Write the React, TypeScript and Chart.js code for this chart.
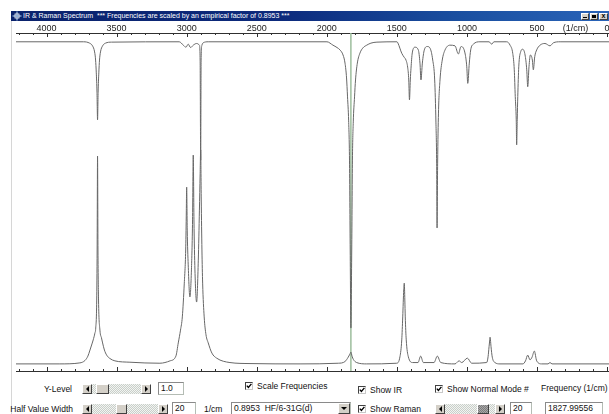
import React, { useEffect, useRef } from 'react';
import { Chart, registerables } from 'chart.js';

Chart.register(...registerables);

const FONT = '"Liberation Sans", Arial, Helvetica, sans-serif';

// ---- axis (wavenumber, 1/cm, drawn reversed) ----
const axisTickValues = [4000, 3500, 3000, 2500, 2000, 1500, 1000, 500, 0];
const axisUnitLabel = '(1/cm)';
const axisUnitValue = 225;
const minorTickStep = 100;
const majorTickStep = 500;
const axisMin = -14;
const axisMax = 4218;
const levelMin = 0;
const levelMax = 100;

// ---- window / controls ----
const windowTitle = 'IR & Raman Spectrum';
const windowNote = '*** Frequencies are scaled by an empirical factor of 0.8953 ***';
const selectedFrequency = 1827.99556;
const scaleFactorText = '0.8953';
const methodText = 'HF/6-31G(d)';
const yLevelText = '1.0';
const halfValueWidthText = '20';
const normalModeText = '20';

// ---- IR spectrum: [wavenumber, level] (dips downward from baseline) ----
const irSpectrum: [number, number][] = [
  [4218, 97.4], [3736, 97.4], [3693, 97.0], [3672, 96.2], [3657, 94.4], [3650, 92.0],
  [3645, 88.2], [3640, 82.5], [3636, 74.3], [3632, 82.5], [3627, 88.2], [3622, 92.0],
  [3615, 94.4], [3600, 96.2], [3579, 97.0], [3536, 97.3], [3053, 97.4], [3024, 96.4],
  [3005, 95.8], [2989, 96.7], [2972, 95.7], [2953, 96.4], [2929, 96.9], [2909, 96.4],
  [2904, 92.0], [2900, 62.4], [2897, 92.0], [2891, 96.4], [2882, 97.1], [2846, 97.4],
  [1999, 97.4], [1956, 96.4], [1927, 95.7], [1906, 95.0], [1884, 93.5], [1870, 91.1],
  [1859, 86.7], [1852, 81.1], [1844, 74.0], [1838, 62.4], [1833, 35.8], [1828, 12.7],
  [1822, 35.8], [1817, 62.4], [1811, 73.7], [1802, 81.1], [1795, 86.1], [1782, 91.1],
  [1763, 94.1], [1742, 95.6], [1715, 96.4], [1685, 97.0], [1642, 97.3], [1499, 97.4],
  [1492, 97.0], [1465, 94.0], [1449, 92.9], [1435, 92.0], [1423, 89.9], [1415, 86.1],
  [1410, 80.2], [1404, 86.1], [1399, 89.6], [1390, 94.1], [1370, 95.8], [1347, 95.0],
  [1335, 91.1], [1328, 86.1], [1318, 91.1], [1304, 95.0], [1283, 96.0], [1263, 95.5],
  [1244, 92.0], [1230, 86.1], [1221, 73.4], [1216, 61.5], [1213, 42.3], [1209, 61.5],
  [1203, 76.3], [1192, 86.1], [1176, 92.0], [1156, 95.0], [1121, 96.4], [1085, 96.2],
  [1061, 93.8], [1042, 96.0], [1014, 94.1], [1001, 90.0], [994, 85.1], [983, 91.1],
  [973, 95.0], [954, 96.7], [907, 97.4], [842, 97.4], [823, 96.7], [807, 97.4],
  [716, 97.4], [692, 96.4], [673, 94.0], [662, 89.1], [655, 81.2], [648, 74.3],
  [645, 66.9], [641, 74.3], [637, 81.2], [630, 90.0], [616, 94.5], [602, 95.2],
  [585, 93.5], [573, 89.1], [566, 84.1], [557, 90.0], [547, 93.5], [533, 92.0],
  [526, 89.1], [516, 93.0], [502, 95.0], [478, 96.4], [443, 96.9], [407, 96.2],
  [383, 97.1], [335, 97.4], [-14, 97.4],
];

// ---- Raman spectrum: [wavenumber, level] (peaks upward from baseline) ----
const ramanSpectrum: [number, number][] = [
  [4218, 2.1], [3905, 2.1], [3762, 2.4], [3726, 3.1], [3705, 4.4], [3690, 6.2],
  [3676, 8.0], [3667, 9.2], [3655, 11.2], [3649, 12.7], [3642, 21.0], [3639, 35.8],
  [3636, 63.6], [3633, 35.8], [3629, 21.0], [3619, 12.1], [3608, 9.8], [3600, 8.3],
  [3587, 6.2], [3571, 4.7], [3548, 3.7], [3512, 3.0], [3405, 2.6], [3191, 2.3],
  [3119, 3.0], [3077, 4.4], [3060, 8.3], [3044, 12.1], [3031, 16.0], [3017, 26.0],
  [3007, 35.8], [3003, 45.6], [3000, 54.4], [2996, 41.7], [2989, 31.4], [2977, 21.9],
  [2966, 29.9], [2958, 44.7], [2953, 63.9], [2948, 44.7], [2941, 29.9], [2929, 20.4],
  [2917, 32.8], [2909, 47.6], [2904, 58.0], [2900, 65.4], [2896, 50.6], [2891, 35.8],
  [2886, 26.0], [2875, 16.0], [2862, 10.7], [2846, 8.3], [2820, 5.3], [2786, 3.8],
  [2691, 2.5], [2548, 2.2], [2191, 2.1], [1918, 2.3], [1870, 2.8], [1847, 4.1],
  [1835, 5.0], [1828, 5.6], [1820, 4.4], [1810, 3.4], [1787, 2.5], [1715, 2.1],
  [1501, 2.3], [1478, 4.2], [1465, 9.2], [1458, 16.0], [1451, 24.0], [1447, 26.0],
  [1443, 21.0], [1440, 16.0], [1433, 9.2], [1418, 4.2], [1387, 2.5], [1349, 2.5],
  [1330, 4.4], [1311, 2.5], [1235, 2.5], [1211, 4.4], [1187, 2.5], [1085, 2.1],
  [1056, 3.0], [1037, 2.5], [997, 3.8], [966, 2.3], [859, 2.5], [849, 4.2],
  [842, 7.2], [837, 9.2], [835, 10.0], [832, 9.2], [828, 7.2], [819, 4.1],
  [800, 2.5], [764, 2.1], [600, 2.1], [582, 3.0], [566, 4.7], [550, 3.3],
  [535, 4.1], [519, 5.9], [502, 3.0], [466, 2.1], [421, 2.1], [407, 2.5],
  [393, 2.1], [-14, 2.1],
];

const lineColor = '#676767';
const axisColor = '#303030';
const cursorColor = '#9dbd9d';

const cursorPlugin = {
  id: 'modeCursor',
  beforeDatasetsDraw(chart: any) {
    const { ctx, chartArea, scales } = chart;
    const px = scales.x.getPixelForValue(selectedFrequency);
    ctx.save();
    ctx.strokeStyle = cursorColor;
    ctx.lineWidth = 1.5;
    ctx.beginPath();
    ctx.moveTo(px, chartArea.top);
    ctx.lineTo(px, chartArea.bottom);
    ctx.stroke();
    ctx.restore();
  },
};

const innerTicksPlugin = {
  id: 'innerTicks',
  afterDraw(chart: any) {
    const { ctx, chartArea, scales } = chart;
    const sx = scales.x;
    ctx.save();
    ctx.strokeStyle = axisColor;
    ctx.lineWidth = 1;
    for (let v = 0; v <= axisMax; v += minorTickStep) {
      const px = Math.round(sx.getPixelForValue(v)) + 0.5;
      const len = v % majorTickStep === 0 ? 4 : 2;
      ctx.beginPath();
      ctx.moveTo(px, chartArea.top);
      ctx.lineTo(px, chartArea.top + len);
      ctx.moveTo(px, chartArea.bottom);
      ctx.lineTo(px, chartArea.bottom - len);
      ctx.stroke();
    }
    ctx.restore();
  },
};

function Raised(props: any) {
  const { left, top, width, height, bg, children } = props;
  return (
    <div
      style={{
        position: 'absolute', left, top, width, height, boxSizing: 'border-box',
        background: bg || '#d4d0c8',
        borderTop: '1px solid #ffffff', borderLeft: '1px solid #ffffff',
        borderRight: '1px solid #404040', borderBottom: '1px solid #404040',
        display: 'flex', alignItems: 'center', justifyContent: 'center',
      }}
    >
      {children}
    </div>
  );
}

function Arrow({ dir }: { dir: string }) {
  if (dir === 'down') {
    return <div style={{ width: 0, height: 0, borderLeft: '3px solid transparent', borderRight: '3px solid transparent', borderTop: '3px solid #000' }} />;
  }
  return dir === 'left' ? (
    <div style={{ width: 0, height: 0, borderTop: '3px solid transparent', borderBottom: '3px solid transparent', borderRight: '3px solid #000' }} />
  ) : (
    <div style={{ width: 0, height: 0, borderTop: '3px solid transparent', borderBottom: '3px solid transparent', borderLeft: '3px solid #000' }} />
  );
}

function ScrollBar(props: any) {
  const { left, top, width, thumbLeft, thumbWidth, dark } = props;
  const h = 10;
  return (
    <div
      style={{
        position: 'absolute', left, top, width, height: h,
        background: 'repeating-conic-gradient(#c9cfc9 0 25%, #f2f4f2 0 50%) 0 0 / 2px 2px',
      }}
    >
      <Raised left={0} top={0} width={h} height={h}><Arrow dir="left" /></Raised>
      <Raised
        left={thumbLeft} top={0} width={thumbWidth} height={h}
        bg={dark ? 'repeating-conic-gradient(#7c7c7c 0 25%, #a8a8a8 0 50%) 0 0 / 2px 2px' : '#d4d0c8'}
      />
      <Raised left={width - h} top={0} width={h} height={h}><Arrow dir="right" /></Raised>
    </div>
  );
}

function TextBox(props: any) {
  const { left, top, width, height, text } = props;
  return (
    <div
      style={{
        position: 'absolute', left, top, width, height, boxSizing: 'border-box',
        background: '#ffffff', border: '1px solid #b4bcb4', borderTopColor: '#8a8a8a', borderLeftColor: '#8a8a8a',
        fontSize: 8.5, lineHeight: `${height - 2}px`, paddingLeft: 2, color: '#111', whiteSpace: 'nowrap', overflow: 'hidden',
      }}
    >
      {text}
    </div>
  );
}

function CheckBox(props: any) {
  const { left, top, label } = props;
  return (
    <div style={{ position: 'absolute', left, top, height: 10, whiteSpace: 'nowrap' }}>
      <div
        style={{
          position: 'absolute', left: 0, top: 1, width: 8, height: 8, boxSizing: 'border-box',
          background: '#fff', border: '1px solid #404040', borderRightColor: '#c8c8c8', borderBottomColor: '#c8c8c8',
        }}
      >
        <svg width="6" height="6" style={{ position: 'absolute', left: 0, top: 0 }}>
          <polyline points="0.8,2.6 2.4,4.4 5.4,0.9" stroke="#000" strokeWidth="1.4" fill="none" />
        </svg>
      </div>
      <span style={{ position: 'absolute', left: 12, top: 0, fontSize: 8.5, lineHeight: '10px', color: '#111' }}>{label}</span>
    </div>
  );
}

function Label(props: any) {
  const { left, right, top, text } = props;
  const style: any = { position: 'absolute', top, fontSize: 8.5, lineHeight: '10px', color: '#111', whiteSpace: 'nowrap' };
  if (right !== undefined) { style.right = 609 - right; style.textAlign = 'right'; } else { style.left = left; }
  return <div style={style}>{text}</div>;
}

function TitleBar() {
  return (
    <div
      style={{
        position: 'absolute', left: 11, top: 11, width: 598, height: 10,
        background: 'linear-gradient(to right, #0a226c 0%, #0c2a7c 45%, #1a4fa0 75%, #2a64b8 100%)',
      }}
    >
      <svg width="10" height="10" style={{ position: 'absolute', left: 1, top: 0 }}>
        <line x1="0.5" y1="5" x2="9.5" y2="5" stroke="#bfe0ff" strokeWidth="1" />
        <line x1="5" y1="0.5" x2="5" y2="9.5" stroke="#bfe0ff" strokeWidth="1" />
        <rect x="3" y="3" width="4" height="4" fill="none" stroke="#ffffff" strokeWidth="0.8" />
      </svg>
      <span style={{ position: 'absolute', left: 12, top: 0, fontSize: 7, lineHeight: '10px', color: '#ffffff', whiteSpace: 'pre' }}>
        {`${windowTitle}  ${windowNote}`}
      </span>
      <Raised left={570} top={1.5} width={8} height={7}>
        <div style={{ width: 4, height: 1, background: '#000', marginTop: 3 }} />
      </Raised>
      <Raised left={578.5} top={1.5} width={8} height={7}>
        <div style={{ width: 4, height: 3, border: '1px solid #000', borderTopWidth: 2, boxSizing: 'border-box' }} />
      </Raised>
      <Raised left={588} top={1.5} width={9} height={7}>
        <span style={{ fontSize: 7, lineHeight: '6px', fontWeight: 'bold', color: '#000' }}>x</span>
      </Raised>
    </div>
  );
}

export default function App() {
  const canvasRef = useRef<HTMLCanvasElement | null>(null);

  useEffect(() => {
    const canvas = canvasRef.current;
    if (!canvas) return;
    const chart = new Chart(canvas, {
      type: 'line',
      data: {
        datasets: [
          {
            label: 'IR',
            data: irSpectrum.map(([x, y]) => ({ x, y })),
            borderColor: lineColor,
            borderWidth: 1,
            pointRadius: 0,
            fill: false,
            cubicInterpolationMode: 'monotone',
          },
          {
            label: 'Raman',
            data: ramanSpectrum.map(([x, y]) => ({ x, y })),
            borderColor: lineColor,
            borderWidth: 1,
            pointRadius: 0,
            fill: false,
            cubicInterpolationMode: 'monotone',
          },
        ],
      },
      options: {
        responsive: false,
        animation: false,
        events: [],
        layout: { padding: { left: 16, right: 0, top: 0, bottom: 5 } },
        plugins: { legend: { display: false }, tooltip: { enabled: false } },
        scales: {
          x: {
            type: 'linear',
            position: 'top',
            min: axisMin,
            max: axisMax,
            reverse: true,
            grid: { display: false, drawOnChartArea: false, drawTicks: false },
            border: { display: true, color: axisColor, width: 1 },
            ticks: {
              autoSkip: false,
              maxRotation: 0,
              padding: -1,
              color: '#222',
              font: { family: FONT, size: 9 },
              callback: (v: any) => (v === axisUnitValue ? axisUnitLabel : String(v)),
            },
            afterBuildTicks: (s: any) => {
              const vals = [...axisTickValues, axisUnitValue].sort((a, b) => b - a);
              s.ticks = vals.map((value) => ({ value }));
            },
            afterFit: (s: any) => {
              s.height = 12;
              s.paddingLeft = 0;
              s.paddingRight = 0;
            },
          } as any,
          xb: {
            type: 'linear',
            position: 'bottom',
            min: axisMin,
            max: axisMax,
            reverse: true,
            grid: { display: false, drawTicks: false },
            border: { display: true, color: axisColor, width: 1 },
            ticks: { display: false },
            afterFit: (s: any) => {
              s.height = 0;
              s.paddingLeft = 0;
              s.paddingRight = 0;
            },
          } as any,
          y: { display: false, min: levelMin, max: levelMax },
        },
      } as any,
      plugins: [cursorPlugin, innerTicksPlugin],
    });
    return () => chart.destroy();
  }, []);

  const row1 = 384;
  const row2 = 404;

  return (
    <div
      style={{
        position: 'fixed', left: 0, top: 0, width: 609, height: 414, overflow: 'hidden',
        background: '#ffffff', fontFamily: FONT,
      }}
    >
      <div style={{ position: 'absolute', left: 11, top: 21, width: 1, height: 393, background: '#d6d6d6' }} />
      <canvas ref={canvasRef} width={609} height={355} style={{ position: 'absolute', left: 0, top: 21, width: 609, height: 355 }} />
      <TitleBar />

      {/* row 1 */}
      <Label right={72} top={row1} text="Y-Level" />
      <ScrollBar left={82} top={row1} width={69} thumbLeft={14} thumbWidth={13} />
      <TextBox left={158} top={row1 - 2} width={26} height={13} text={yLevelText} />
      <CheckBox left={245} top={row1 - 3} label="Scale Frequencies" />
      <CheckBox left={358} top={row1 + 1} label="Show IR" />
      <CheckBox left={435} top={row1} label="Show Normal Mode #" />
      <Label left={541} top={row1 - 1} text="Frequency (1/cm)" />

      {/* row 2 */}
      <Label right={73} top={row2} text="Half Value Width" />
      <ScrollBar left={82} top={row2} width={86} thumbLeft={34} thumbWidth={11} />
      <TextBox left={172} top={row2 - 2} width={24} height={13} text={halfValueWidthText} />
      <Label left={204} top={row2} text="1/cm" />
      <div style={{ position: 'absolute', left: 231, top: row2 - 2, width: 120, height: 13 }}>
        <TextBox left={0} top={0} width={120} height={13} text={`${scaleFactorText}\u00a0\u00a0${methodText}`} />
        <Raised left={107} top={1} width={12} height={11}><Arrow dir="down" /></Raised>
      </div>
      <CheckBox left={358} top={row2} label="Show Raman" />
      <ScrollBar left={435} top={row2} width={70} thumbLeft={42} thumbWidth={12} dark />
      <TextBox left={510} top={row2 - 2} width={22} height={13} text={normalModeText} />
      <TextBox left={545} top={row2 - 2} width={58} height={13} text={String(selectedFrequency)} />
    </div>
  );
}
